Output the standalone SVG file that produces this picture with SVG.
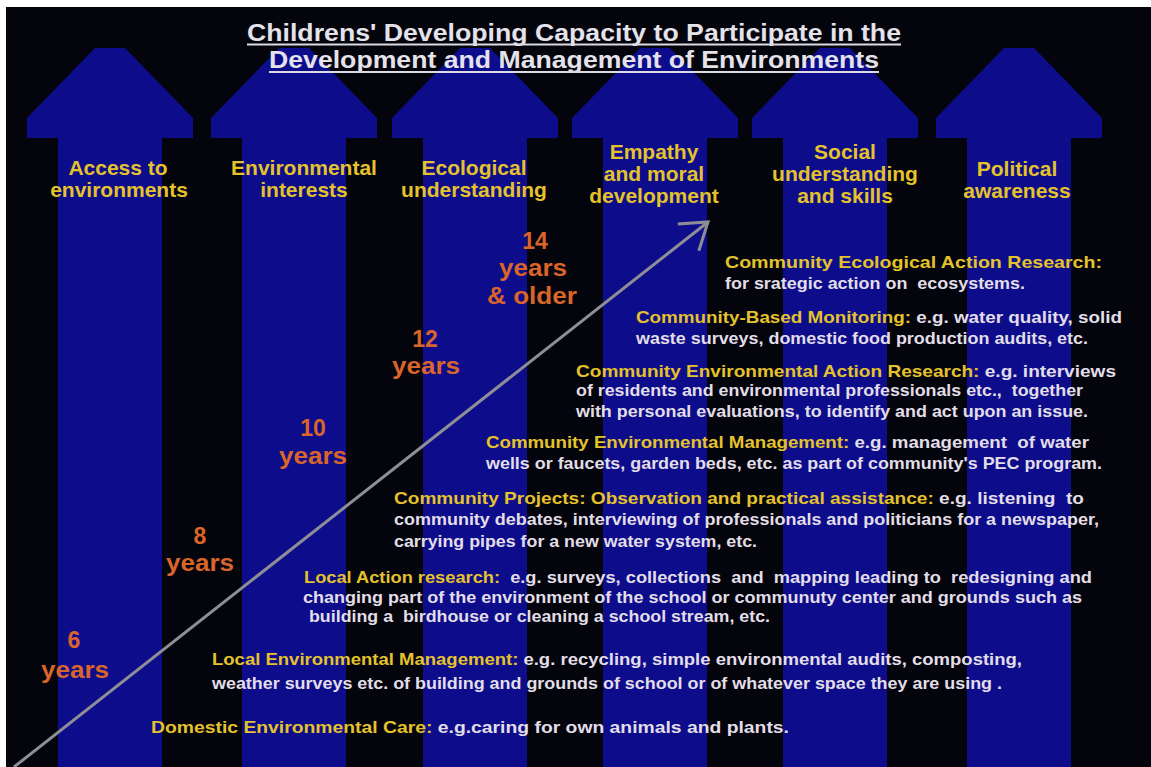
<svg xmlns="http://www.w3.org/2000/svg" xmlns:xlink="http://www.w3.org/1999/xlink" width="1151" height="767" viewBox="0 0 1151 767" xml:space="preserve">
<style>
text{font-family:"Liberation Sans",Arial,Helvetica,sans-serif;font-weight:bold}
.title{font-size:23.5px;fill:#e4e2ea}
.uline{stroke:#dcdae2;stroke-width:2}
.col{font-size:21px;fill:#e4c22c;text-anchor:middle}
.age{font-size:23px;fill:#d9652a;text-anchor:middle}
.blk{font-size:17px;fill:#e2dee8;white-space:pre}
.hd{fill:#e4c22c}
.shaft{fill:#0d0d8c}
.conn{fill:none;stroke:#8e8e96;stroke-width:3}
</style>
<defs>
<polygon id="arrow" points="-15,48 15,48 83,118 83,138 52,138 52,767 -52,767 -52,138 -83,138 -83,118"/>
<marker id="openhead" markerUnits="userSpaceOnUse" markerWidth="40" markerHeight="40" orient="auto" refX="0" refY="0" overflow="visible">
<path d="M-25,-17 L0,0 L-25,17" fill="none" stroke="#8e8e96" stroke-width="3"/>
</marker>
</defs>
<rect x="0" y="0" width="1151" height="767" fill="#ffffff"/>
<rect x="6" y="7" width="1145" height="760" fill="#04040c"/>
<g id="col-access"><use xlink:href="#arrow" href="#arrow" class="shaft" transform="translate(110,0)"/><text class="col" x="118" y="175">Access to</text><text class="col" x="119" y="197">environments</text></g>
<g id="col-interests"><use xlink:href="#arrow" href="#arrow" class="shaft" transform="translate(294,0)"/><text class="col" x="304" y="175">Environmental</text><text class="col" x="304" y="197">interests</text></g>
<g id="col-ecological"><use xlink:href="#arrow" href="#arrow" class="shaft" transform="translate(475,0)"/><text class="col" x="474" y="175">Ecological</text><text class="col" x="474" y="197">understanding</text></g>
<g id="col-empathy"><use xlink:href="#arrow" href="#arrow" class="shaft" transform="translate(655,0)"/><text class="col" x="654" y="159">Empathy</text><text class="col" x="654" y="181">and moral</text><text class="col" x="654" y="203">development</text></g>
<g id="col-social"><use xlink:href="#arrow" href="#arrow" class="shaft" transform="translate(835,0)"/><text class="col" x="845" y="159">Social</text><text class="col" x="845" y="181">understanding</text><text class="col" x="845" y="203">and skills</text></g>
<g id="col-political"><use xlink:href="#arrow" href="#arrow" class="shaft" transform="translate(1019,0)"/><text class="col" x="1017" y="176">Political</text><text class="col" x="1017" y="198">awareness</text></g>
<g id="title"><text class="title" x="247" y="41" textLength="654" lengthAdjust="spacingAndGlyphs">Childrens' Developing Capacity to Participate in the</text><line class="uline" x1="247" y1="44.5" x2="901" y2="44.5"/><text class="title" x="269" y="68" textLength="610" lengthAdjust="spacingAndGlyphs">Development and Management of Environments</text><line class="uline" x1="269" y1="72" x2="879" y2="72"/></g>
<g id="connectors"><path class="conn" d="M14,767 L708,222" marker-end="url(#openhead)"/></g>
<g id="ages">
<g id="age-14"><text class="age" x="535" y="249">14</text><text class="age" x="533" y="276" textLength="68" lengthAdjust="spacingAndGlyphs">years</text><text class="age" x="532" y="304" textLength="90" lengthAdjust="spacingAndGlyphs">&amp; older</text></g>
<g id="age-12"><text class="age" x="425" y="347">12</text><text class="age" x="426" y="374" textLength="68" lengthAdjust="spacingAndGlyphs">years</text></g>
<g id="age-10"><text class="age" x="313" y="436">10</text><text class="age" x="313" y="464" textLength="68" lengthAdjust="spacingAndGlyphs">years</text></g>
<g id="age-8"><text class="age" x="200" y="544">8</text><text class="age" x="200" y="571" textLength="68" lengthAdjust="spacingAndGlyphs">years</text></g>
<g id="age-6"><text class="age" x="74" y="648">6</text><text class="age" x="75" y="678" textLength="68" lengthAdjust="spacingAndGlyphs">years</text></g>
</g>
<g id="level-community-ecological"><text class="blk" x="725" y="268" textLength="377" lengthAdjust="spacingAndGlyphs"><tspan class="hd">Community Ecological Action Research:</tspan></text><text class="blk" xml:space="preserve" x="725" y="289" textLength="300" lengthAdjust="spacingAndGlyphs">for srategic action on  ecosystems.</text></g>
<g id="level-community-monitoring"><text class="blk" x="636" y="323" textLength="486" lengthAdjust="spacingAndGlyphs"><tspan class="hd">Community-Based Monitoring:</tspan> e.g. water quality, solid</text><text class="blk" x="636" y="344" textLength="452" lengthAdjust="spacingAndGlyphs">waste surveys, domestic food production audits, etc.</text></g>
<g id="level-community-action"><text class="blk" x="576" y="377" textLength="540" lengthAdjust="spacingAndGlyphs"><tspan class="hd">Community Environmental Action Research:</tspan> e.g. interviews</text><text class="blk" xml:space="preserve" x="576" y="396" textLength="507" lengthAdjust="spacingAndGlyphs">of residents and environmental professionals etc.,  together</text><text class="blk" x="576" y="417" textLength="512" lengthAdjust="spacingAndGlyphs">with personal evaluations, to identify and act upon an issue.</text></g>
<g id="level-community-management"><text class="blk" xml:space="preserve" x="486" y="448" textLength="603" lengthAdjust="spacingAndGlyphs"><tspan class="hd">Community Environmental Management:</tspan> e.g. management  of water</text><text class="blk" x="486" y="469" textLength="616" lengthAdjust="spacingAndGlyphs">wells or faucets, garden beds, etc. as part of community's PEC program.</text></g>
<g id="level-community-projects"><text class="blk" xml:space="preserve" x="394" y="504" textLength="690" lengthAdjust="spacingAndGlyphs"><tspan class="hd">Community Projects: Observation and practical assistance:</tspan> e.g. listening  to</text><text class="blk" x="394" y="525" textLength="705" lengthAdjust="spacingAndGlyphs">community debates, interviewing of professionals and politicians for a newspaper,</text><text class="blk" x="394" y="547" textLength="363" lengthAdjust="spacingAndGlyphs">carrying pipes for a new water system, etc.</text></g>
<g id="level-local-action"><text class="blk" xml:space="preserve" x="304" y="583" textLength="788" lengthAdjust="spacingAndGlyphs"><tspan class="hd">Local Action research:</tspan>  e.g. surveys, collections  and  mapping leading to  redesigning and</text><text class="blk" x="303" y="603" textLength="779" lengthAdjust="spacingAndGlyphs">changing part of the environment of the school or communuty center and grounds such as</text><text class="blk" xml:space="preserve" x="309" y="622" textLength="461" lengthAdjust="spacingAndGlyphs">building a  birdhouse or cleaning a school stream, etc.</text></g>
<g id="level-local-management"><text class="blk" x="212" y="665" textLength="810" lengthAdjust="spacingAndGlyphs"><tspan class="hd">Local Environmental Management:</tspan> e.g. recycling, simple environmental audits, composting,</text><text class="blk" x="212" y="689" textLength="790" lengthAdjust="spacingAndGlyphs">weather surveys etc. of building and grounds of school or of whatever space they are using .</text></g>
<g id="level-domestic-care"><text class="blk" x="151" y="733" textLength="638" lengthAdjust="spacingAndGlyphs"><tspan class="hd">Domestic Environmental Care:</tspan> e.g.caring for own animals and plants.</text></g>
</svg>
